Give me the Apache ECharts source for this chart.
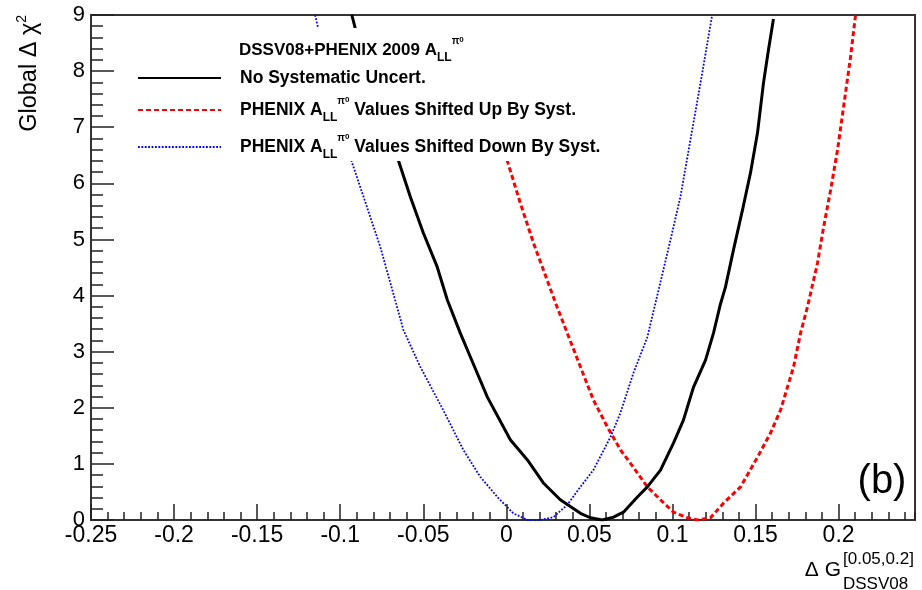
<!DOCTYPE html>
<html>
<head>
<meta charset="utf-8">
<title>Global delta chi2 scan</title>
<script src="https://cdn.jsdelivr.net/npm/echarts@6.0.0/dist/echarts.min.js"></script>
<style>
  html, body { margin: 0; padding: 0; background: #fff; }
  #chart { width: 922px; height: 590px; }
</style>
</head>
<body>
<div id="chart"></div>
<script>
// axis ranges
const xRange = [-0.25, 0.246];
const yRange = [0, 9];
const xMajorStep = 0.05;
const xMinorStep = 0.01;
const yMajorStep = 1;

// [ΔG, Δχ²] pairs
const noSyst = [
  [-0.0930, 9.0], [-0.0910, 8.77], [-0.0651, 6.42], [-0.0578, 5.76], [-0.0500, 5.12],
  [-0.0416, 4.51], [-0.0355, 3.92], [-0.0277, 3.33], [-0.0217, 2.91], [-0.0114, 2.19],
  [0.0024, 1.43], [0.0127, 1.07], [0.0223, 0.66], [0.0325, 0.36], [0.0446, 0.12],
  [0.0506, 0.04], [0.0578, 0.0], [0.0645, 0.05], [0.0705, 0.14], [0.0789, 0.41],
  [0.0849, 0.59], [0.0928, 0.89], [0.1006, 1.37], [0.1066, 1.78], [0.1127, 2.37],
  [0.1199, 2.85], [0.1247, 3.33], [0.1289, 3.85], [0.1319, 4.15], [0.1367, 4.81],
  [0.1422, 5.53], [0.1470, 6.19], [0.1512, 6.90], [0.1548, 7.79], [0.1578, 8.38],
  [0.1608, 8.93]
];
const shiftedUp = [
  [0.0004, 6.42], [0.0084, 5.65], [0.0163, 4.94], [0.0305, 3.80], [0.0367, 3.33],
  [0.0446, 2.73], [0.0524, 2.14], [0.0608, 1.66], [0.0687, 1.25], [0.0765, 0.94],
  [0.0849, 0.59], [0.0928, 0.36], [0.1006, 0.14], [0.1090, 0.04], [0.1151, 0.0],
  [0.1229, 0.04], [0.1307, 0.30], [0.1410, 0.59], [0.1512, 1.12], [0.1590, 1.55],
  [0.1651, 1.96], [0.1729, 2.73], [0.1771, 3.33], [0.1813, 3.80], [0.1873, 4.58],
  [0.1910, 5.22], [0.1952, 5.88], [0.1994, 6.60], [0.2030, 7.36], [0.2072, 8.25],
  [0.2102, 9.0]
];
const shiftedDown = [
  [-0.1151, 9.0], [-0.1133, 8.77], [-0.0930, 6.38], [-0.0839, 5.58], [-0.0759, 4.87],
  [-0.0658, 3.80], [-0.0620, 3.39], [-0.0518, 2.73], [-0.0380, 1.96], [-0.0259, 1.25],
  [-0.0157, 0.77], [-0.0054, 0.41], [0.0042, 0.12], [0.0127, 0.0], [0.0205, 0.0],
  [0.0283, 0.05], [0.0367, 0.27], [0.0446, 0.59], [0.0524, 0.89], [0.0627, 1.48],
  [0.0687, 1.91], [0.0765, 2.62], [0.0849, 3.26], [0.0898, 3.87], [0.0988, 4.99],
  [0.1048, 5.76], [0.1108, 6.77], [0.1169, 7.79], [0.1239, 9.0]
];

const seriesNames = ['noSyst', 'up', 'down'];
const legendLabels = {
  noSyst: '{f|No Systematic Uncert.}',
  up: '{f|PHENIX A}{sub|LL}{pi|π}{zero|0}{b| Values Shifted Up By Syst.}',
  down: '{f|PHENIX A}{sub|LL}{pi|π}{zero|0}{b| Values Shifted Down By Syst.}'
};
const headerText = '{h|DSSV08+PHENIX 2009 A}{sub|LL}{pi|π}{zero|0}';

const FONT = '"Liberation Sans", Arial, Helvetica, sans-serif';

const richStyles = {
  h: { fontSize: 17, fontWeight: 'bold', fontFamily: FONT, color: '#000', lineHeight: 28 },
  f: { fontSize: 17.5, fontWeight: 'bold', fontFamily: FONT, color: '#000', lineHeight: 28, padding: [0, 0, 0, 14] },
  b: { fontSize: 17.5, fontWeight: 'bold', fontFamily: FONT, color: '#000', lineHeight: 28 },
  sub: { fontSize: 12, fontWeight: 'bold', fontFamily: FONT, color: '#000', lineHeight: 12, verticalAlign: 'bottom' },
  pi: { fontSize: 10, fontFamily: FONT, color: '#000', lineHeight: 10, verticalAlign: 'top' },
  zero: { fontSize: 8, fontFamily: FONT, color: '#000', lineHeight: 8, verticalAlign: 'top' }
};

const tickStyle = { color: '#222', width: 1.5 };

const chart = echarts.init(document.getElementById('chart'), null, { renderer: 'canvas' });

const option = {
  animation: false,
  backgroundColor: '#fff',
  grid: {
    left: 91, right: 7, top: 15, bottom: 70,
    containLabel: false,
    outerBoundsMode: 'none',
    show: true,
    borderColor: '#333',
    borderWidth: 2,
    backgroundColor: 'transparent'
  },
  title: {
    text: headerText,
    left: 239,
    top: 36,
    padding: 0,
    textStyle: { rich: richStyles }
  },
  legend: {
    orient: 'vertical',
    left: 120,
    top: 28,
    padding: [41, 18, 0, 17],
    backgroundColor: '#fff',
    itemWidth: 83,
    itemHeight: 14,
    itemGap: 9,
    selectedMode: false,
    itemStyle: { opacity: 0, borderWidth: 0 },
    data: seriesNames,
    formatter: function (name) { return legendLabels[name]; },
    textStyle: { fontFamily: FONT, fontSize: 17.5, fontWeight: 'bold', color: '#000', rich: richStyles }
  },
  xAxis: [
    {
      type: 'value',
      position: 'bottom',
      min: xRange[0], max: xRange[1], interval: xMajorStep,
      axisLine: { onZero: false, lineStyle: { color: '#333', width: 2 } },
      axisTick: { inside: true, length: 16, lineStyle: tickStyle },
      axisLabel: {
        margin: 4, fontSize: 23, fontFamily: FONT, color: '#000',
        showMinLabel: true, showMaxLabel: false
      },
      splitLine: { show: false }
    },
    {
      type: 'value',
      position: 'bottom',
      min: xRange[0], max: xRange[1], interval: xMinorStep,
      axisLine: { show: false },
      axisTick: { inside: true, length: 8, lineStyle: tickStyle },
      axisLabel: { show: false },
      splitLine: { show: false }
    }
  ],
  yAxis: {
    type: 'value',
    min: yRange[0], max: yRange[1], interval: yMajorStep,
    axisLine: { show: true, onZero: false, lineStyle: { color: '#333', width: 2 } },
    axisTick: { inside: true, length: 23, lineStyle: tickStyle },
    minorTick: { show: true, splitNumber: 5, length: 12, lineStyle: tickStyle },
    axisLabel: {
      margin: 6, fontSize: 22, fontFamily: FONT, color: '#000',
      showMinLabel: true, showMaxLabel: true
    },
    splitLine: { show: false }
  },
  series: [
    {
      name: 'noSyst', type: 'line', data: noSyst, xAxisIndex: 0,
      symbol: 'none', showSymbol: false, clip: true, z: 3,
      lineStyle: { color: '#000', width: 3, type: 'solid' },
      itemStyle: { color: '#000' }
    },
    {
      name: 'up', type: 'line', data: shiftedUp, xAxisIndex: 0,
      symbol: 'none', showSymbol: false, clip: true, z: 2,
      lineStyle: { color: '#ff0000', width: 3, type: [5, 3] },
      itemStyle: { color: '#ff0000' }
    },
    {
      name: 'down', type: 'line', data: shiftedDown, xAxisIndex: 0,
      symbol: 'none', showSymbol: false, clip: true, z: 2,
      lineStyle: { color: '#0000ff', width: 1.8, type: [1.8, 1.6] },
      itemStyle: { color: '#0000ff' }
    }
  ],
  graphic: [
    {
      type: 'text', x: 30, y: 15, rotation: Math.PI / 2,
      style: {
        text: '{m|Global Δ χ}{s|2}',
        align: 'right', verticalAlign: 'middle',
        rich: {
          m: { fontSize: 23.5, fontFamily: FONT, fill: '#000', lineHeight: 30 },
          s: { fontSize: 14, fontFamily: FONT, fill: '#000', lineHeight: 14, verticalAlign: 'top' }
        }
      }
    },
    {
      type: 'text', x: 841, y: 570,
      style: { text: 'Δ G', fontSize: 21, fontFamily: FONT, fill: '#000', align: 'right', verticalAlign: 'middle' }
    },
    {
      type: 'text', x: 843, y: 559,
      style: { text: '[0.05,0.2]', fontSize: 17, fontFamily: FONT, fill: '#000', align: 'left', verticalAlign: 'middle' }
    },
    {
      type: 'text', x: 843, y: 584,
      style: { text: 'DSSV08', fontSize: 17, fontFamily: FONT, fill: '#000', align: 'left', verticalAlign: 'middle' }
    },
    {
      type: 'text', x: 882, y: 482,
      style: { text: '(b)', fontSize: 40, fontFamily: FONT, fill: '#000', align: 'center', verticalAlign: 'middle' }
    }
  ]
};

chart.setOption(option);
</script>
</body>
</html>
